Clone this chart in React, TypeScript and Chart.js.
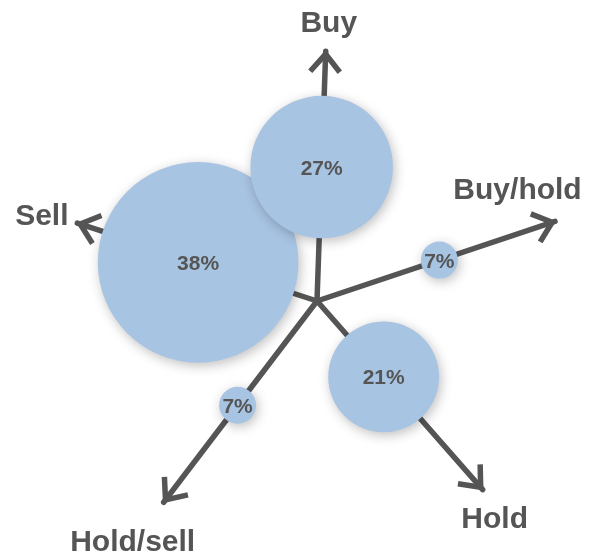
import React, { useEffect, useRef } from "react";
import { Chart, registerables } from "chart.js";

Chart.register(...registerables);

// ---- data ----
const CATEGORIES = ["Sell", "Buy", "Buy/hold", "Hold", "Hold/sell"];
const SHARES = [38, 27, 7, 21, 7]; // percent
const DIRECTIONS_DEG = [162, 88, 18.5, -48.7, -127.3]; // axis direction
const BUBBLE_DISTANCE = [125, 134, 129, 101, 131]; // along the axis
const AXIS_LENGTH = [252, 250, 251, 251, 253];
const SHARE_LABELS = SHARES.map((s) => s + "%");

// ---- layout / style ----
const W = 600;
const H = 556;
const X_RANGE = [-317, 283];
const Y_RANGE = [-255, 301];
const RADIUS_PER_PERCENT = 2.64;
const LABEL_OFFSETS = [
  [-35.5, 2],
  [3, -19],
  [-37.5, -22],
  [12, 38],
  [-31, 49],
];
const GREY = "#555555";
const BUBBLE = "rgb(168,196,227)";
const FONT = '"Liberation Sans", Arial, Helvetica, sans-serif';

const rad = (d: number) => (d * Math.PI) / 180;
const tips = CATEGORIES.map((_, i) => ({
  x: Math.cos(rad(DIRECTIONS_DEG[i])) * AXIS_LENGTH[i],
  y: Math.sin(rad(DIRECTIONS_DEG[i])) * AXIS_LENGTH[i],
}));
const bubbles = CATEGORIES.map((_, i) => ({
  x: Math.cos(rad(DIRECTIONS_DEG[i])) * BUBBLE_DISTANCE[i],
  y: Math.sin(rad(DIRECTIONS_DEG[i])) * BUBBLE_DISTANCE[i],
  r: SHARES[i] * RADIUS_PER_PERCENT,
}));

const decorPlugin = {
  id: "decor",
  beforeDatasetDraw(chart: any, args: any) {
    const ds = chart.data.datasets[args.index];
    if (ds.type === "bubble") {
      const ctx = chart.ctx;
      ctx.save();
      ctx.shadowColor = "rgba(0,0,0,0.25)";
      ctx.shadowBlur = 12;
      ctx.shadowOffsetX = 2;
      ctx.shadowOffsetY = 3;
    }
  },
  afterDatasetDraw(chart: any, args: any) {
    const ds = chart.data.datasets[args.index];
    if (ds.type === "bubble") {
      chart.ctx.restore();
    }
  },
  afterDatasetsDraw(chart: any) {
    const ctx = chart.ctx;
    const xs = chart.scales.x;
    const ys = chart.scales.y;
    const cx = xs.getPixelForValue(0);
    const cy = ys.getPixelForValue(0);
    // arrow heads
    ctx.save();
    ctx.strokeStyle = GREY;
    ctx.lineWidth = 5.5;
    ctx.lineJoin = "miter";
    ctx.lineCap = "butt";
    tips.forEach((t) => {
      const px = xs.getPixelForValue(t.x);
      const py = ys.getPixelForValue(t.y);
      const ang = Math.atan2(py - cy, px - cx);
      const len = 23;
      const spread = rad(40);
      const back = 3;
      const tx = px - Math.cos(ang) * back;
      const ty = py - Math.sin(ang) * back;
      ctx.beginPath();
      ctx.moveTo(tx - Math.cos(ang - spread) * len, ty - Math.sin(ang - spread) * len);
      ctx.lineTo(tx, ty);
      ctx.lineTo(tx - Math.cos(ang + spread) * len, ty - Math.sin(ang + spread) * len);
      ctx.stroke();
    });
    // category labels
    ctx.fillStyle = GREY;
    ctx.font = "bold 30px " + FONT;
    ctx.textAlign = "center";
    ctx.textBaseline = "alphabetic";
    CATEGORIES.forEach((c, i) => {
      const px = xs.getPixelForValue(tips[i].x) + LABEL_OFFSETS[i][0];
      const py = ys.getPixelForValue(tips[i].y) + LABEL_OFFSETS[i][1];
      ctx.fillText(c, px, py);
    });
    // share labels
    ctx.font = "bold 21px " + FONT;
    SHARE_LABELS.forEach((s, i) => {
      const px = xs.getPixelForValue(bubbles[i].x);
      const py = ys.getPixelForValue(bubbles[i].y);
      ctx.fillText(s, px, py + 21 * 0.36);
    });
    ctx.restore();
  },
};

export default function App() {
  const ref = useRef<HTMLCanvasElement>(null);
  useEffect(() => {
    document.body.style.margin = "0";
    const canvas = ref.current;
    if (!canvas) return;
    const lineSets = CATEGORIES.map((c, i) => ({
      type: "line" as const,
      label: c + " axis",
      data: [
        { x: 0, y: 0 },
        { x: tips[i].x, y: tips[i].y },
      ],
      borderColor: GREY,
      borderWidth: 5.5,
      borderCapStyle: "round" as const,
      pointRadius: 0,
      fill: false,
      order: 2,
      clip: false as any,
    }));
    const chart = new Chart(canvas, {
      type: "bubble",
      data: {
        datasets: [
          {
            type: "bubble",
            label: "Share",
            data: bubbles,
            backgroundColor: BUBBLE,
            borderWidth: 0,
            hoverBorderWidth: 0,
            order: 1,
            clip: false as any,
          } as any,
          ...lineSets,
        ],
      },
      options: {
        animation: false,
        responsive: false,
        devicePixelRatio: 1,
        events: [],
        layout: { padding: 0, autoPadding: false },
        plugins: { legend: { display: false }, tooltip: { enabled: false } },
        scales: {
          x: { type: "linear", min: X_RANGE[0], max: X_RANGE[1], display: false },
          y: { type: "linear", min: Y_RANGE[0], max: Y_RANGE[1], display: false },
        },
      },
      plugins: [decorPlugin],
    });
    return () => chart.destroy();
  }, []);
  return (
    <div style={{ width: W, height: H, background: "#fff" }}>
      <canvas ref={ref} width={W} height={H} style={{ display: "block" }} />
    </div>
  );
}
